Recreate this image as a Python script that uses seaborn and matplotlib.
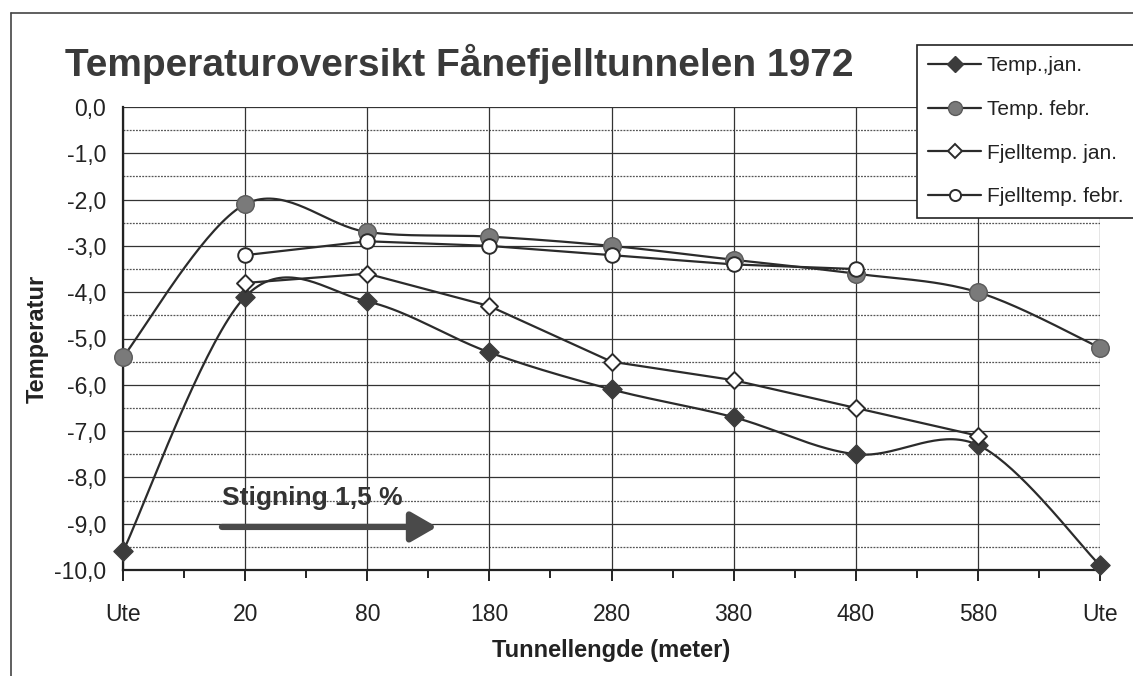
import numpy as np
import pandas as pd
import matplotlib
matplotlib.use("Agg")
import matplotlib.pyplot as plt
from matplotlib.lines import Line2D
from matplotlib import font_manager
import seaborn as sns

# Measuring points along the tunnel (outside portal at both ends)
categories = ["Ute", "20", "80", "180", "280", "380", "480", "580", "Ute"]

temp_jan = [-9.6, -4.1, -4.2, -5.3, -6.1, -6.7, -7.5, -7.3, -9.9]
temp_feb = [-5.4, -2.1, -2.7, -2.8, -3.0, -3.3, -3.6, -4.0, -5.2]
fjell_jan = [np.nan, -3.8, -3.6, -4.3, -5.5, -5.9, -6.5, -7.1, np.nan]
fjell_feb = [np.nan, -3.2, -2.9, -3.0, -3.2, -3.4, -3.5, np.nan, np.nan]

series_names = ["Temp.,jan.", "Temp. febr.", "Fjelltemp. jan.", "Fjelltemp. febr."]

y_ticks = [0, -1, -2, -3, -4, -5, -6, -7, -8, -9, -10]

sns.set_theme(style="white")
names = {f.name for f in font_manager.fontManager.ttflist}
FONT = "Liberation Sans Narrow" if "Liberation Sans Narrow" in names else "Liberation Sans"
plt.rcParams["font.family"] = [FONT, "DejaVu Sans"]

INK = "#2b2b2b"


def smooth_curve(values, steps=40):
    """Cubic Bezier smoothing through the points (spreadsheet-style smoothed line)."""
    x = np.arange(len(values), dtype=float)
    y = np.asarray(values, dtype=float)
    P = np.column_stack([x, y])
    n = len(P)
    out = []
    t = np.linspace(0, 1, steps)[:, None]
    for i in range(n - 1):
        p0 = P[i - 1] if i > 0 else P[i]
        p1 = P[i]
        p2 = P[i + 1]
        p3 = P[i + 2] if i + 2 < n else P[i + 1]
        c1 = p1 + (p2 - p0) / 6.0
        c2 = p2 - (p3 - p1) / 6.0
        seg = ((1 - t) ** 3) * p1 + 3 * ((1 - t) ** 2) * t * c1 + 3 * (1 - t) * t ** 2 * c2 + t ** 3 * p2
        out.append(seg if i == 0 else seg[1:])
    pts = np.vstack(out)
    return pts[:, 0], pts[:, 1]


fig = plt.figure(figsize=(11.33, 6.76), dpi=100)
ax = fig.add_axes([123 / 1133, 1 - 570 / 676, (1100 - 123) / 1133, (570 - 107) / 676])

idx = np.arange(len(categories))

# Smoothed air temperature curves
for vals in (temp_jan, temp_feb):
    sx, sy = smooth_curve(vals)
    sns.lineplot(x=sx, y=sy, ax=ax, color=INK, lw=1.6, sort=False, estimator=None, zorder=4)

# Straight rock temperature lines
for vals in (fjell_jan, fjell_feb):
    d = pd.DataFrame({"x": idx, "y": vals}).dropna()
    sns.lineplot(data=d, x="x", y="y", ax=ax, color=INK, lw=1.6, sort=False, estimator=None, zorder=4)

marker_styles = [
    dict(marker="D", s=95, color="#3c3c3c", edgecolor="#3c3c3c", linewidth=1.0),
    dict(marker="o", s=160, color="#7a7a7a", edgecolor="#5a5a5a", linewidth=1.0),
    dict(marker="D", s=75, color="white", edgecolor=INK, linewidth=1.4),
    dict(marker="o", s=110, color="white", edgecolor=INK, linewidth=1.4),
]
for vals, st in zip((temp_jan, temp_feb, fjell_jan, fjell_feb), marker_styles):
    d = pd.DataFrame({"x": idx, "y": vals}).dropna()
    sns.scatterplot(data=d, x="x", y="y", ax=ax, zorder=5, clip_on=False, **st)

ax.set_xlim(0, len(categories) - 1)
ax.set_ylim(-10, 0)
ax.set_xticks(idx)
ax.set_xticklabels(categories)
ax.set_xticks(idx[:-1] + 0.5, minor=True)
ax.set_yticks(y_ticks)
ax.set_yticklabels([f"{v:.1f}".replace(".", ",") for v in y_ticks])
ax.set_yticks(np.arange(-9.5, 0, 1.0), minor=True)

ax.grid(False)
for v in y_ticks:
    ax.axhline(v, color="#333333", lw=0.9, zorder=1)
for v in np.arange(-9.5, 0, 1.0):
    ax.axhline(v, color="#555555", lw=0.9, ls=(0, (1.5, 1.0)), zorder=1)
for v in idx:
    ax.axvline(v, color="#333333", lw=0.9, zorder=1)

for s in ("top", "right"):
    ax.spines[s].set_visible(False)
for s in ("left", "bottom"):
    ax.spines[s].set_color("#222222")
    ax.spines[s].set_linewidth(1.6)

ax.tick_params(axis="x", which="major", direction="out", length=8, width=1.4, color="#222222",
               pad=16, labelsize=16.5, labelcolor="#222222", bottom=True)
ax.tick_params(axis="x", which="minor", direction="out", length=6, width=1.4, color="#222222", bottom=True)
ax.tick_params(axis="y", which="both", length=0, pad=12, labelsize=16.5, labelcolor="#222222")

ax.set_xlabel("Tunnellengde (meter)", fontsize=17, fontweight="bold", color="#222222", labelpad=9)
ax.set_ylabel("Temperatur", fontsize=17, fontweight="bold", color="#222222", labelpad=4)

# Slope annotation
ax.annotate("", xy=(2.57, -9.07), xytext=(0.81, -9.07),
            arrowprops=dict(arrowstyle="-|>,head_length=1.3,head_width=0.75", lw=4.5,
                            color="#4a4a4a", shrinkA=0, shrinkB=0), zorder=6)
ax.text(0.81, -8.45, "Stigning 1,5 %", fontsize=19, fontweight="bold", color="#333333",
        ha="left", va="center", zorder=6)

fig.text(65 / 1133, 1 - 76 / 676, "Temperaturoversikt Fånefjelltunnelen 1972", fontsize=28,
         fontweight="bold", color="#3a3a3a", ha="left", va="baseline")

# Outer frame (top and left edges)
fig.add_artist(Line2D([11 / 1133, 11 / 1133], [0, 1 - 13 / 676], transform=fig.transFigure,
                      color="#444444", lw=1.2))
fig.add_artist(Line2D([11 / 1133, 1], [1 - 13 / 676, 1 - 13 / 676], transform=fig.transFigure,
                      color="#444444", lw=1.2))

handles = [
    Line2D([], [], color=INK, lw=1.6, marker="D", ms=8, mfc="#3c3c3c", mec="#3c3c3c"),
    Line2D([], [], color=INK, lw=1.6, marker="o", ms=10, mfc="#7a7a7a", mec="#5a5a5a"),
    Line2D([], [], color=INK, lw=1.6, marker="D", ms=7, mfc="white", mec=INK, mew=1.4),
    Line2D([], [], color=INK, lw=1.6, marker="o", ms=8, mfc="white", mec=INK, mew=1.4),
]
leg = fig.legend(handles, series_names, loc="upper left",
                 bbox_to_anchor=(917 / 1133, 1 - 45 / 676), bbox_transform=fig.transFigure,
                 frameon=True, fancybox=False, edgecolor="#222222", framealpha=1,
                 fontsize=15, handlelength=2.5, handletextpad=0.3, labelspacing=1.18,
                 borderpad=0.55, borderaxespad=0)
leg.get_frame().set_linewidth(1.2)
for t in leg.get_texts():
    t.set_color("#222222")

fig.savefig("out.png", dpi=100, facecolor="white")
